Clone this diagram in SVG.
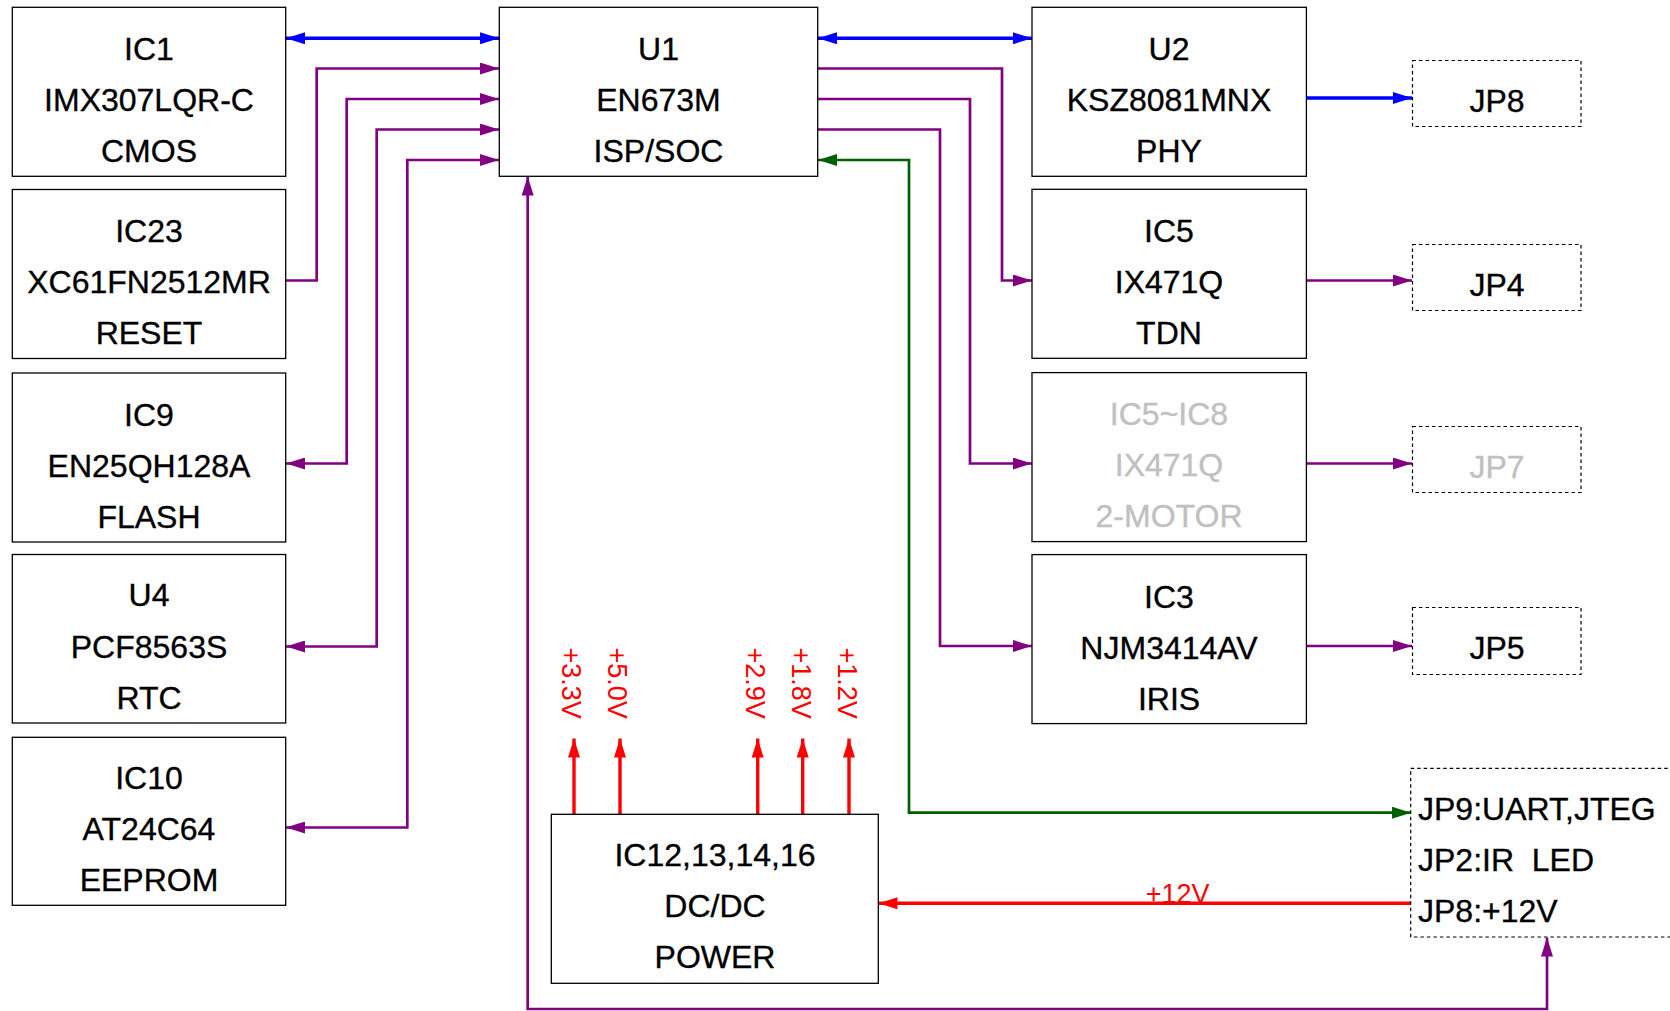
<svg xmlns="http://www.w3.org/2000/svg" width="1670" height="1011" viewBox="0 0 1670 1011">
<defs>
<style>
.box{fill:#fff;stroke:#000;stroke-width:1.3}
.dash{fill:#fff;stroke:#000;stroke-width:1.2;stroke-dasharray:3.5,3}
.t{font-family:"Liberation Sans",Arial,sans-serif;font-size:32px;fill:#000;stroke:#000;stroke-width:0.35;text-anchor:middle}
.g{fill:#c0c0c0;stroke:#c0c0c0}
.tl{font-family:"Liberation Sans",Arial,sans-serif;font-size:32px;fill:#000;stroke:#000;stroke-width:0.35}
.v{font-family:"Liberation Sans",Arial,sans-serif;font-size:27px;fill:#ff0000}
.pu{fill:none;stroke:#800080;stroke-width:2.7}
.bl{fill:none;stroke:#0000ff;stroke-width:3.4}
.gr{fill:none;stroke:#006000;stroke-width:2.7}
.rd{fill:none;stroke:#ff0000;stroke-width:3.4}
</style>
<marker id="mp" markerUnits="userSpaceOnUse" markerWidth="19" markerHeight="12" refX="19" refY="6" orient="auto-start-reverse"><path d="M0,0 L19,6 L0,12 z" fill="#800080"/></marker>
<marker id="mb" markerUnits="userSpaceOnUse" markerWidth="19" markerHeight="12" refX="19" refY="6" orient="auto-start-reverse"><path d="M0,0 L19,6 L0,12 z" fill="#0000ff"/></marker>
<marker id="mg" markerUnits="userSpaceOnUse" markerWidth="19" markerHeight="12" refX="19" refY="6" orient="auto-start-reverse"><path d="M0,0 L19,6 L0,12 z" fill="#006000"/></marker>
<marker id="mr" markerUnits="userSpaceOnUse" markerWidth="19" markerHeight="12" refX="19" refY="6" orient="auto-start-reverse"><path d="M0,0 L19,6 L0,12 z" fill="#ff0000"/></marker>
</defs>
<rect width="1670" height="1011" fill="#fff"/>

<g id="connectors">
<path class="bl" d="M286,38.3 H499" marker-start="url(#mb)" marker-end="url(#mb)"/>
<path class="bl" d="M818,38.3 H1032" marker-start="url(#mb)" marker-end="url(#mb)"/>
<path class="bl" d="M1306,98 H1412" marker-end="url(#mb)"/>
<path class="pu" d="M286,280.5 H316.7 V68.5 H499" marker-end="url(#mp)"/>
<path class="pu" d="M286,463.5 H346.7 V99 H499" marker-start="url(#mp)" marker-end="url(#mp)"/>
<path class="pu" d="M286,646.5 H376.7 V129.5 H499" marker-start="url(#mp)" marker-end="url(#mp)"/>
<path class="pu" d="M286,827.5 H407.3 V160 H499" marker-start="url(#mp)" marker-end="url(#mp)"/>
<path class="pu" d="M818,68.5 H1002 V280.5 H1032" marker-end="url(#mp)"/>
<path class="pu" d="M818,99 H970 V463.5 H1032" marker-end="url(#mp)"/>
<path class="pu" d="M818,129.5 H940 V646 H1032" marker-end="url(#mp)"/>
<path class="pu" d="M1306,280.5 H1412" marker-end="url(#mp)"/>
<path class="pu" d="M1306,463.5 H1412" marker-end="url(#mp)"/>
<path class="pu" d="M1306,646 H1412" marker-end="url(#mp)"/>
<path class="gr" d="M818,160 H909 V812.7 H1411" marker-start="url(#mg)" marker-end="url(#mg)"/>
<path class="pu" d="M527.7,176.5 V1009 H1547 V937.5" marker-start="url(#mp)" marker-end="url(#mp)"/>
<path class="rd" d="M1411,903.3 H878.5" marker-end="url(#mr)"/>
<path class="rd" d="M574,814 V738.5" marker-end="url(#mr)"/>
<path class="rd" d="M620,814 V738.5" marker-end="url(#mr)"/>
<path class="rd" d="M757.7,814 V738.5" marker-end="url(#mr)"/>
<path class="rd" d="M802.7,814 V738.5" marker-end="url(#mr)"/>
<path class="rd" d="M849,814 V738.5" marker-end="url(#mr)"/>
<text class="v" x="1177.6" y="903" text-anchor="middle">+12V</text>
<text class="v" transform="translate(562,647.5) rotate(90)">+3.3V</text>
<text class="v" transform="translate(608.3,647.5) rotate(90)">+5.0V</text>
<text class="v" transform="translate(746,647.5) rotate(90)">+2.9V</text>
<text class="v" transform="translate(791.7,647.5) rotate(90)">+1.8V</text>
<text class="v" transform="translate(837.7,647.5) rotate(90)">+1.2V</text>
</g>

<g id="IC1"><rect class="box" x="12.3" y="7.3" width="273.4" height="169"/>
<text class="t" x="149" y="60">IC1</text><text class="t" x="149" y="111">IMX307LQR-C</text><text class="t" x="149" y="162">CMOS</text></g>
<g id="IC23"><rect class="box" x="12.3" y="189.5" width="273.4" height="169"/>
<text class="t" x="149" y="242">IC23</text><text class="t" x="149" y="293">XC61FN2512MR</text><text class="t" x="149" y="344">RESET</text></g>
<g id="IC9"><rect class="box" x="12.3" y="373" width="273.4" height="169"/>
<text class="t" x="149" y="425.5">IC9</text><text class="t" x="149" y="476.5">EN25QH128A</text><text class="t" x="149" y="527.5">FLASH</text></g>
<g id="U4"><rect class="box" x="12.3" y="554.5" width="273.4" height="168.5"/>
<text class="t" x="149" y="606">U4</text><text class="t" x="149" y="657.5">PCF8563S</text><text class="t" x="149" y="708.5">RTC</text></g>
<g id="IC10"><rect class="box" x="12.3" y="737.3" width="273.4" height="168"/>
<text class="t" x="149" y="789">IC10</text><text class="t" x="149" y="840">AT24C64</text><text class="t" x="149" y="891">EEPROM</text></g>

<g id="U1"><rect class="box" x="499.3" y="7.3" width="318.4" height="169"/>
<text class="t" x="658.5" y="60">U1</text><text class="t" x="658.5" y="111">EN673M</text><text class="t" x="658.5" y="162">ISP/SOC</text></g>

<g id="U2"><rect class="box" x="1032" y="7.3" width="274.4" height="169"/>
<text class="t" x="1169" y="60">U2</text><text class="t" x="1169" y="111">KSZ8081MNX</text><text class="t" x="1169" y="162">PHY</text></g>
<g id="IC5"><rect class="box" x="1032" y="189.3" width="274.4" height="169"/>
<text class="t" x="1169" y="242">IC5</text><text class="t" x="1169" y="293">IX471Q</text><text class="t" x="1169" y="344">TDN</text></g>
<g id="IC5-IC8"><rect class="box" x="1032" y="372.6" width="274.4" height="169"/>
<text class="t g" x="1169" y="425">IC5~IC8</text><text class="t g" x="1169" y="476">IX471Q</text><text class="t g" x="1169" y="527">2-MOTOR</text></g>
<g id="IC3"><rect class="box" x="1032" y="554.6" width="274.4" height="169"/>
<text class="t" x="1169" y="607.5">IC3</text><text class="t" x="1169" y="658.5">NJM3414AV</text><text class="t" x="1169" y="709.5">IRIS</text></g>

<g id="JP8"><rect class="dash" x="1412.5" y="60.5" width="168.5" height="66"/>
<text class="t" x="1497" y="111.5">JP8</text></g>
<g id="JP4"><rect class="dash" x="1412.5" y="244.5" width="168.5" height="66"/>
<text class="t" x="1497" y="295.5">JP4</text></g>
<g id="JP7"><rect class="dash" x="1412.5" y="426.5" width="168.5" height="66"/>
<text class="t g" x="1497" y="477.5">JP7</text></g>
<g id="JP5"><rect class="dash" x="1412.5" y="607.5" width="168.5" height="67"/>
<text class="t" x="1497" y="659">JP5</text></g>
<g id="JP9"><rect class="dash" x="1410.7" y="768.3" width="270" height="168.7"/>
<text class="tl" x="1418" y="820">JP9:UART,JTEG</text>
<text class="tl" x="1418" y="870.5" xml:space="preserve">JP2:IR  LED</text>
<text class="tl" x="1418" y="921.7">JP8:+12V</text></g>

<g id="DCDC"><rect class="box" x="551.3" y="814.3" width="327" height="169"/>
<text class="t" x="715" y="866">IC12,13,14,16</text><text class="t" x="715" y="917.3">DC/DC</text><text class="t" x="715" y="968.3">POWER</text></g>
</svg>
